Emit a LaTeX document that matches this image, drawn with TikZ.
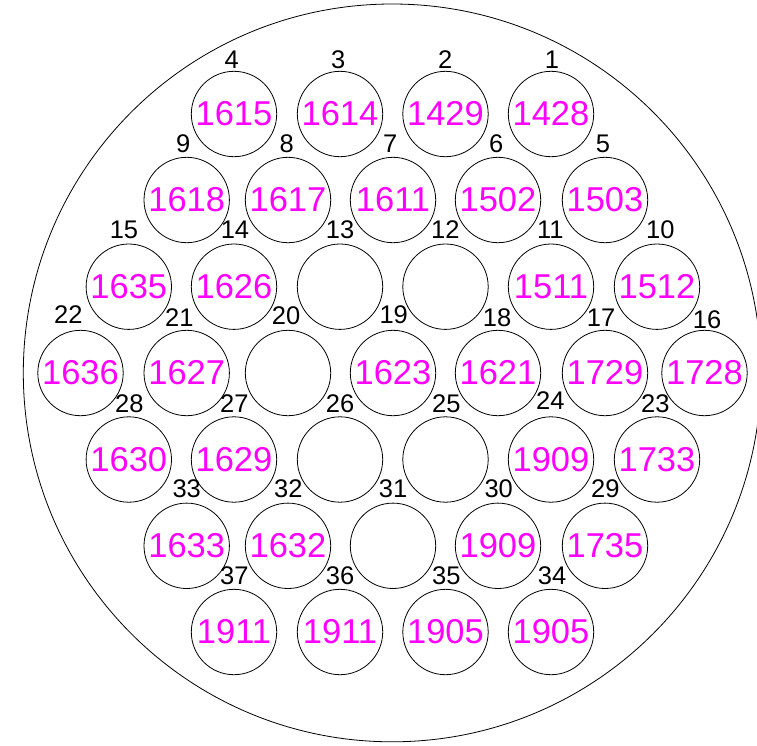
\documentclass[tikz,border=0pt]{standalone}
\usepackage{fontspec}
\setmainfont{Liberation Sans}
\begin{document}
\begin{tikzpicture}[x=1pt,y=-1pt,
  pin/.style={draw=black,line width=0.8pt,circle,minimum size=85.4pt,inner sep=0pt,
    text=magenta,font=\fontsize{34.5}{34.5}\selectfont},
  pinnum/.style={inner sep=0pt,text=black,font=\fontsize{25.5}{25.5}\selectfont}]
\definecolor{magenta}{RGB}{255,0,255}
\useasboundingbox (0,0) rectangle (757,745);
\clip (0,0) rectangle (757,745);
\node[draw=black,line width=0.8pt,circle,minimum size=737.8pt,inner sep=0pt] (shell) at (392.2,372.9) {};
\newcommand{\drawpin}[7]{%
  \node[pin] (p#5) at (#2,#3) {#4};
  \node[pinnum] (l#5) at (#6,#7) {#5};}
% row 1
\drawpin{}{234}{114}{1615}{4}{231.7}{59.3}
\drawpin{}{340}{114}{1614}{3}{338.3}{59.3}
\drawpin{}{445.5}{114}{1429}{2}{445.3}{59.3}
\drawpin{}{551}{114}{1428}{1}{552}{59.3}
% row 2
\drawpin{}{186.7}{200}{1618}{9}{183.3}{144}
\drawpin{}{288}{200}{1617}{8}{286.7}{144}
\drawpin{}{393}{200}{1611}{7}{390.3}{144}
\drawpin{}{498}{200}{1502}{6}{496.3}{144}
\drawpin{}{605}{200}{1503}{5}{603}{144}
% row 3
\drawpin{}{128.8}{286.7}{1635}{15}{124}{230}
\drawpin{}{234}{286.7}{1626}{14}{235}{230}
\drawpin{}{340}{286.7}{}{13}{340}{230}
\drawpin{}{445.5}{286.7}{}{12}{445.3}{230}
\drawpin{}{551}{286.7}{1511}{11}{550.3}{230}
\drawpin{}{657}{286.7}{1512}{10}{660.3}{230}
% row 4
\drawpin{}{80.5}{373}{1636}{22}{68.3}{315}
\drawpin{}{186.7}{373}{1627}{21}{179.3}{317.3}
\drawpin{}{288}{373}{}{20}{286}{316}
\drawpin{}{393}{373}{1623}{19}{393.7}{315}
\drawpin{}{498}{373}{1621}{18}{497}{317.3}
\drawpin{}{605}{373}{1729}{17}{601}{317.3}
\drawpin{}{704.5}{373}{1728}{16}{707}{319.3}
% row 5
\drawpin{}{128.8}{459.5}{1630}{28}{129.3}{403.3}
\drawpin{}{234}{459.5}{1629}{27}{234.3}{403.3}
\drawpin{}{340}{459.5}{}{26}{340}{403.3}
\drawpin{}{445.5}{459.5}{}{25}{446.3}{403.3}
\drawpin{}{551}{459.5}{1909}{24}{550.3}{401}
\drawpin{}{657}{459.5}{1733}{23}{655.3}{403.3}
% row 6
\drawpin{}{186.7}{545.8}{1633}{33}{186.7}{488.3}
\drawpin{}{288}{545.8}{1632}{32}{288.3}{488.3}
\drawpin{}{393}{545.8}{}{31}{393}{488.3}
\drawpin{}{498}{545.8}{1909}{30}{498.7}{488.3}
\drawpin{}{605}{545.8}{1735}{29}{605.3}{488.3}
% row 7
\drawpin{}{234}{632}{1911}{37}{234.3}{575.7}
\drawpin{}{340}{632}{1911}{36}{340}{575.7}
\drawpin{}{445.5}{632}{1905}{35}{446.3}{576}
\drawpin{}{551}{632}{1905}{34}{552}{576}
\end{tikzpicture}
\end{document}
